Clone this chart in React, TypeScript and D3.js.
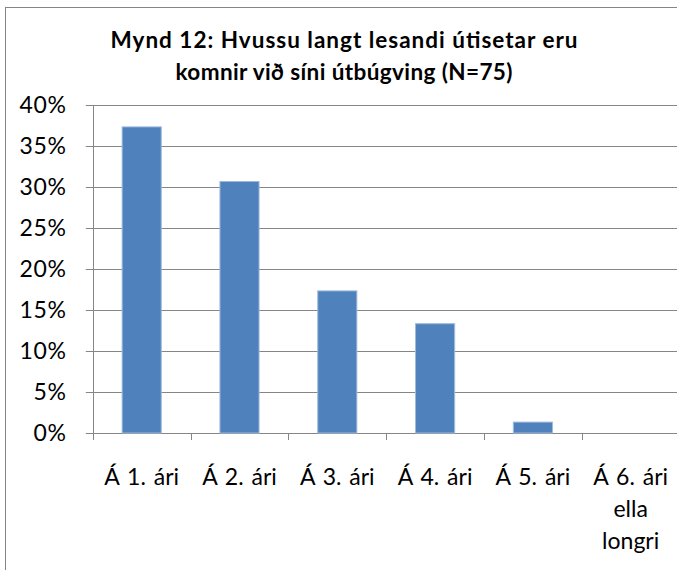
import React from "react";
import * as d3 from "d3";

const categories = ["Á 1. ári", "Á 2. ári", "Á 3. ári", "Á 4. ári", "Á 5. ári", "Á 6. ári ella longri"];
const categoryLines = [["Á 1. ári"], ["Á 2. ári"], ["Á 3. ári"], ["Á 4. ári"], ["Á 5. ári"], ["Á 6. ári", "ella", "longri"]];
const values = [0.3733, 0.3067, 0.1733, 0.1333, 0.0133, 0];
const yTicks = [0, 0.05, 0.1, 0.15, 0.2, 0.25, 0.3, 0.35, 0.4];
const titleLines = ["Mynd 12: Hvussu langt lesandi útisetar eru", "komnir við síni útbúgving (N=75)"];
const titleWidths = [467, 337];

const W = 677;
const H = 570;
const plotLeft = 92.8;
const plotRight = 679.6;
const plotTop = 105;
const plotBottom = 433;
const FONT = "Lato, sans-serif";
const GRID = "#868686";

export default function App() {
  const x = d3.scaleBand<string>().domain(categories).range([plotLeft, plotRight]).paddingInner(0.6).paddingOuter(0.3);
  const step = x.step();
  const y = d3.scaleLinear().domain([0, 0.4]).range([plotBottom, plotTop]);
  const fmt = d3.format(".0%");

  return (
    <svg width={W} height={H} style={{ position: "fixed", left: 0, top: 0, background: "#fff" }} fontFamily={FONT}>
      <rect x={0} y={0} width={W} height={H} fill="#fff" />
      <line x1={5.5} y1={7} x2={5.5} y2={H} stroke={GRID} strokeWidth={1} />
      <line x1={5} y1={7.5} x2={W} y2={7.5} stroke={GRID} strokeWidth={1} />
      {titleLines.map((t, i) => (
        <text
          key={i}
          x={344}
          y={48 + i * 32}
          textAnchor="middle"
          fontWeight="bold"
          fontSize={22.5}
          fill="#000"
          textLength={titleWidths[i]}
          lengthAdjust="spacing"
        >
          {t}
        </text>
      ))}
      {yTicks.map((t) => (
        <g key={t}>
          <line x1={plotLeft - 7} x2={plotRight} y1={Math.round(y(t)) + 0.5} y2={Math.round(y(t)) + 0.5} stroke={GRID} strokeWidth={1} />
          <text x={66.5} y={y(t)} dy="0.36em" textAnchor="end" fontSize={23} letterSpacing={0.6} fill="#000">
            {fmt(t)}
          </text>
        </g>
      ))}
      <line x1={Math.round(plotLeft) + 0.5} x2={Math.round(plotLeft) + 0.5} y1={plotTop} y2={plotBottom + 7} stroke={GRID} strokeWidth={1} />
      {categories.map((c, i) => {
        const tx = Math.round((x(c) as number) - step * 0.3 + step) + 0.5;
        return <line key={"t" + i} x1={tx} x2={tx} y1={plotBottom} y2={plotBottom + 7} stroke={GRID} strokeWidth={1} />;
      })}
      {categories.map((c, i) => (
        <rect
          key={"b" + i}
          x={x(c)}
          y={y(values[i])}
          width={x.bandwidth()}
          height={plotBottom - y(values[i])}
          fill="#4F81BD"
          stroke="#9fbbdc"
          strokeWidth={values[i] > 0 ? 1 : 0}
        />
      ))}
      {categories.map((c, i) =>
        categoryLines[i].map((l, j) => (
          <text
            key={c + j}
            x={(x(c) as number) + x.bandwidth() / 2}
            y={484.5 + j * 32.3}
            textAnchor="middle"
            fontSize={23}
            wordSpacing={2}
            fill="#000"
          >
            {l}
          </text>
        ))
      )}
    </svg>
  );
}
